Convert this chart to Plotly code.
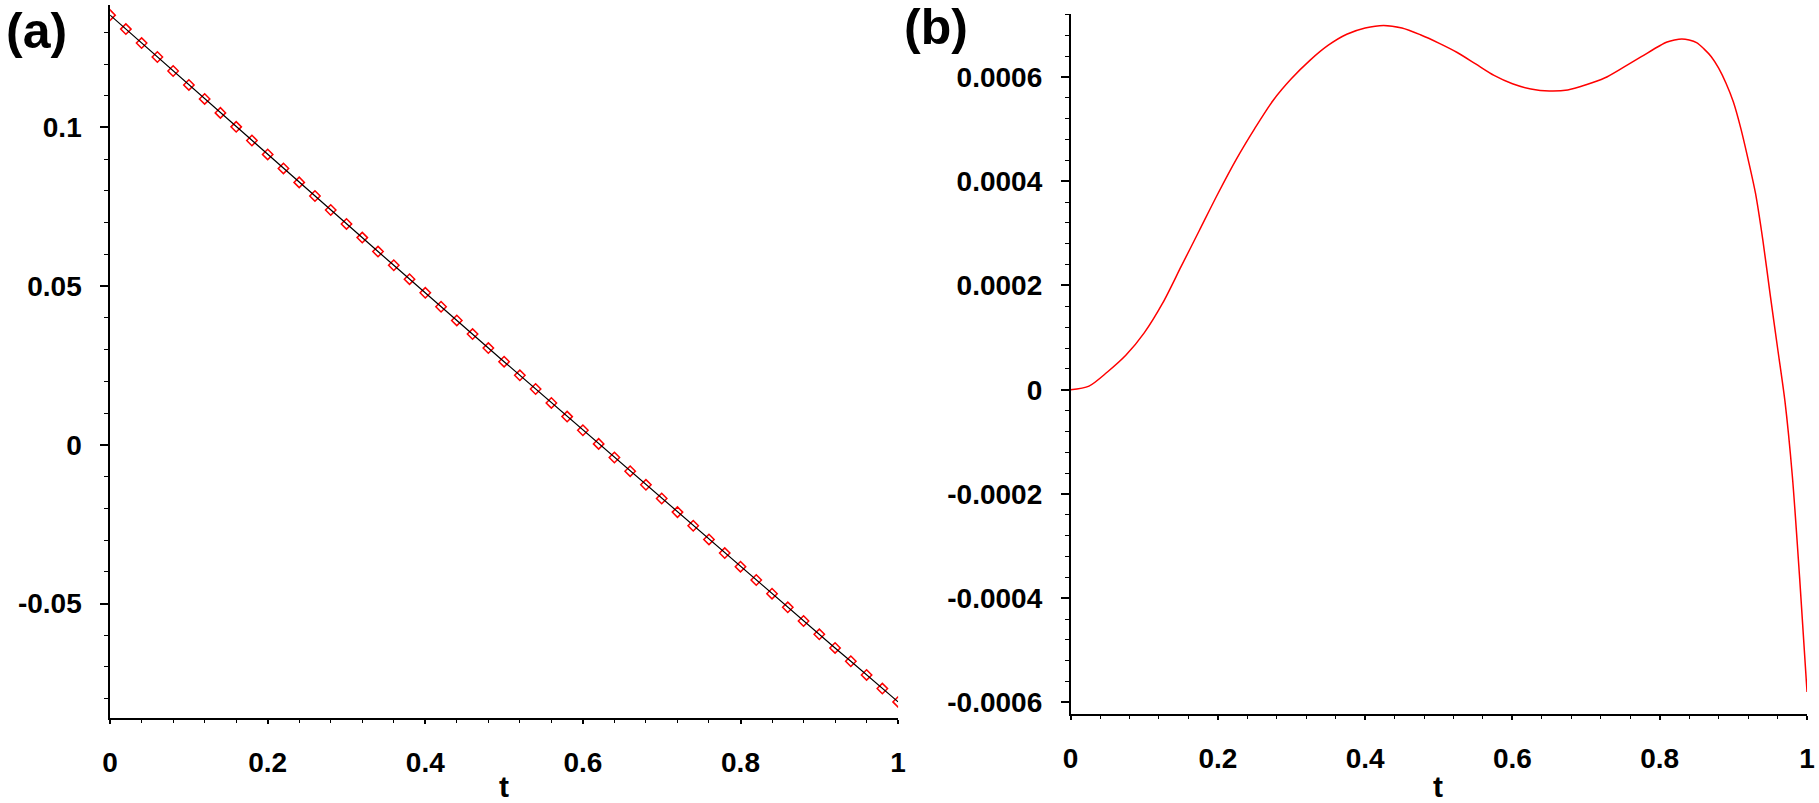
import plotly.graph_objects as go

# ---------------- data ----------------
# panel (a): approximate vs exact solution, t = 0, 0.02, ..., 1
t_a = [0.00, 0.02, 0.04, 0.06, 0.08, 0.10, 0.12, 0.14, 0.16, 0.18,
       0.20, 0.22, 0.24, 0.26, 0.28, 0.30, 0.32, 0.34, 0.36, 0.38,
       0.40, 0.42, 0.44, 0.46, 0.48, 0.50, 0.52, 0.54, 0.56, 0.58,
       0.60, 0.62, 0.64, 0.66, 0.68, 0.70, 0.72, 0.74, 0.76, 0.78,
       0.80, 0.82, 0.84, 0.86, 0.88, 0.90, 0.92, 0.94, 0.96, 0.98, 1.00]
y_a = [0.1354, 0.1310, 0.1266, 0.1222, 0.1178, 0.1134, 0.1090, 0.1046, 0.1002, 0.0959,
       0.0915, 0.0871, 0.0827, 0.0784, 0.0740, 0.0696, 0.0653, 0.0609, 0.0566, 0.0522,
       0.0479, 0.0435, 0.0392, 0.0349, 0.0305, 0.0262, 0.0219, 0.0176, 0.0132, 0.0089,
       0.0046, 0.0003, -0.0040, -0.0083, -0.0126, -0.0169, -0.0212, -0.0255, -0.0298, -0.0341,
       -0.0384, -0.0426, -0.0469, -0.0512, -0.0555, -0.0597, -0.0640, -0.0682, -0.0725, -0.0768, -0.0810]

# panel (b): error curve (values in units of 1e-4)
t_b = [0.000, 0.025, 0.050, 0.075, 0.100, 0.125, 0.150, 0.175, 0.200, 0.225,
       0.250, 0.275, 0.300, 0.325, 0.350, 0.375, 0.400, 0.425, 0.450, 0.475,
       0.500, 0.525, 0.550, 0.575, 0.600, 0.625, 0.650, 0.675, 0.700, 0.725,
       0.750, 0.775, 0.800, 0.810, 0.820, 0.830, 0.840, 0.850, 0.860, 0.870,
       0.880, 0.890, 0.900, 0.910, 0.920, 0.930, 0.940, 0.950, 0.960, 0.970,
       0.980, 0.990, 1.000]
e_b = [0.00, 0.07, 0.34, 0.66, 1.09, 1.66, 2.36, 3.06, 3.76, 4.42,
       5.01, 5.55, 5.97, 6.32, 6.61, 6.82, 6.94, 6.99, 6.94, 6.81,
       6.65, 6.47, 6.25, 6.03, 5.87, 5.77, 5.73, 5.75, 5.85, 5.98,
       6.18, 6.39, 6.60, 6.67, 6.71, 6.73, 6.71, 6.66, 6.54, 6.39,
       6.17, 5.88, 5.52, 5.02, 4.42, 3.77, 2.87, 1.82, 0.80, -0.22,
       -1.65, -3.62, -5.80]
e_b = [v * 1e-4 for v in e_b]

x_ticks = [0, 0.2, 0.4, 0.6, 0.8, 1]
x_labels = ["0", "0.2", "0.4", "0.6", "0.8", "1"]
ya_ticks = [-0.05, 0, 0.05, 0.1]
ya_labels = ["-0.05", "0", "0.05", "0.1"]
yb_ticks = [-0.0006, -0.0004, -0.0002, 0, 0.0002, 0.0004, 0.0006]
yb_labels = ["-0.0006", "-0.0004", "-0.0002", "0", "0.0002", "0.0004", "0.0006"]

FONT = "Liberation Sans, Arial, sans-serif"
W, H = 1819, 803

fig = go.Figure()
fig.add_trace(go.Scatter(x=t_a, y=y_a, mode="markers",
                         marker=dict(symbol="diamond-open", size=8, color="#ff0000",
                                     line=dict(width=1.5, color="#ff0000")),
                         xaxis="x", yaxis="y", showlegend=False))
fig.add_trace(go.Scatter(x=t_a, y=y_a, mode="lines",
                         line=dict(color="black", width=1.2),
                         xaxis="x", yaxis="y", showlegend=False))
fig.add_trace(go.Scatter(x=t_b, y=e_b, mode="lines", line_shape="spline",
                         line=dict(color="#ff0000", width=1.5, smoothing=0.8),
                         xaxis="x2", yaxis="y2", showlegend=False))

tickfont = dict(family=FONT, size=28, color="black", weight="bold")

def xaxis(domain, anchor):
    return dict(domain=domain, anchor=anchor, range=[0, 1],
                tickmode="array", tickvals=x_ticks, ticktext=x_labels,
                showline=True, linecolor="black", linewidth=1.5,
                ticks="outside", ticklen=4, tickwidth=1.5, tickcolor="black",
                minor=dict(tickmode="linear", tick0=0, dtick=0.04, ticks="outside",
                           ticklen=3, tickwidth=1.2, tickcolor="black", showgrid=False),
                showgrid=False, zeroline=False, tickfont=tickfont,
                ticklabelstandoff=14, fixedrange=True)

def yaxis(domain, anchor, rng, vals, labels, mdt):
    return dict(domain=domain, anchor=anchor, range=rng,
                tickmode="array", tickvals=vals, ticktext=labels,
                showline=True, linecolor="black", linewidth=1.5,
                ticks="outside", ticklen=8, tickwidth=1.5, tickcolor="black",
                minor=dict(tickmode="linear", tick0=0, dtick=mdt, ticks="outside",
                           ticklen=4, tickwidth=1.2, tickcolor="black", showgrid=False),
                showgrid=False, zeroline=False, tickfont=tickfont,
                ticklabelstandoff=13, fixedrange=True)

fig.update_layout(
    width=W, height=H,
    margin=dict(l=0, r=0, t=0, b=0),
    paper_bgcolor="white", plot_bgcolor="white",
    xaxis=xaxis([103 / W, 898 / W], "y"),
    yaxis=yaxis([(H - 722) / H, (H - 5) / H], "x", [-0.0862, 0.1386], ya_ticks, ya_labels, 0.01),
    xaxis2=xaxis([1072 / W, 1815 / W], "y2"),
    yaxis2=yaxis([(H - 718) / H, (H - 14) / H], "x2", [-0.000623, 0.000721], yb_ticks, yb_labels, 0.00004),
    annotations=[
        dict(text="(a)", x=-4 / W, y=1 - 31 / H, xref="paper", yref="paper",
             xanchor="left", yanchor="middle", showarrow=False,
             font=dict(family=FONT, size=50, color="black", weight="bold")),
        dict(text="(b)", x=902 / W, y=1 - 27 / H, xref="paper", yref="paper",
             xanchor="left", yanchor="middle", showarrow=False,
             font=dict(family=FONT, size=50, color="black", weight="bold")),
        dict(text="t", x=500 / W, y=1 - 790 / H, xref="paper", yref="paper",
             xanchor="center", yanchor="middle", showarrow=False,
             font=dict(family=FONT, size=30, color="black", weight="bold")),
        dict(text="t", x=1443 / W, y=1 - 790 / H, xref="paper", yref="paper",
             xanchor="center", yanchor="middle", showarrow=False,
             font=dict(family=FONT, size=30, color="black", weight="bold")),
    ],
)

fig.write_html("out.html", config={"displayModeBar": False})
